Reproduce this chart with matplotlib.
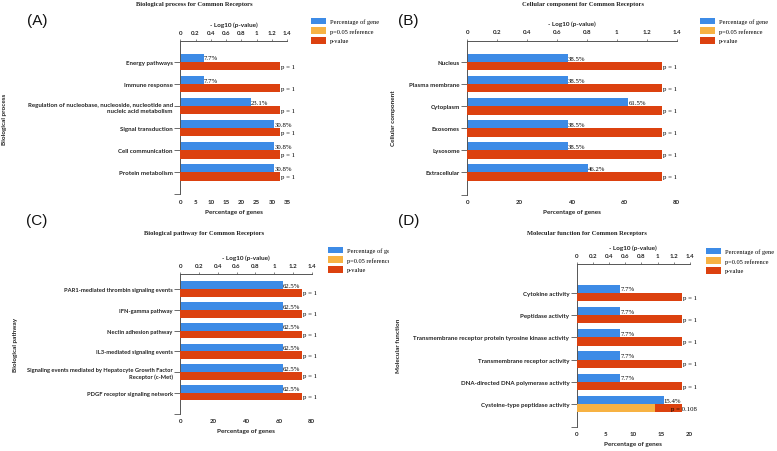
import numpy as np
import matplotlib
matplotlib.use("Agg")
import matplotlib.pyplot as plt
from matplotlib.patches import Patch
from matplotlib.transforms import Bbox

# ---------------- data ----------------
bp_categories = ["Energy pathways", "Immune response",
                 "Regulation of nucleobase, nucleoside, nucleotide and\nnucleic acid metabolism",
                 "Signal transduction", "Cell communication", "Protein metabolism"]
bp_percent = [7.7, 7.7, 23.1, 30.8, 30.8, 30.8]
bp_pvalue = [1, 1, 1, 1, 1, 1]

cc_categories = ["Nucleus", "Plasma membrane", "Cytoplasm", "Exosomes", "Lysosome", "Extracellular"]
cc_percent = [38.5, 38.5, 61.5, 38.5, 38.5, 46.2]
cc_pvalue = [1, 1, 1, 1, 1, 1]

pw_categories = ["PAR1-mediated thrombin signaling events", "IFN-gamma pathway",
                 "Nectin adhesion pathway", "IL3-mediated signaling events",
                 "Signaling events mediated by Hepatocyte Growth Factor\nReceptor (c-Met)",
                 "PDGF receptor signaling network"]
pw_percent = [62.5, 62.5, 62.5, 62.5, 62.5, 62.5]
pw_pvalue = [1, 1, 1, 1, 1, 1]

mf_categories = ["Cytokine activity", "Peptidase activity",
                 "Transmembrane receptor protein tyrosine kinase activity",
                 "Transmembrane receptor activity", "DNA-directed DNA polymerase activity",
                 "Cysteine-type peptidase activity"]
mf_percent = [7.7, 7.7, 7.7, 7.7, 7.7, 15.4]
mf_pvalue = [1, 1, 1, 1, 1, 0.108]

p_reference = 0.05
logp_ticks = [0, 0.2, 0.4, 0.6, 0.8, 1, 1.2, 1.4]
legend_labels = ["Percentage of gene", "p=0.05 reference", "p-value"]

# ---------------- style ----------------
BLUE = "#3d8be6"
ORANGE = "#f7b243"
RED = "#dc410f"
SANS = "Lato"
SERIF = "Liberation Serif"

W, H = 777, 452
fig = plt.figure(figsize=(W / 100, H / 100), dpi=100)


def rect(l, t, r, b):
    return [l / W, 1 - b / H, (r - l) / W, (b - t) / H]


def fx(x):
    return x / W


def fy(y):
    return 1 - y / H


def panel(cats, pct, pvals, box, top_lim, pct_max, pct_ticks, title, title_xy,
          ylabel, ylabel_x, letter, letter_xy, legend_xy, clip_right=None,
          cat_size=4.4):
    l, t, r, b = box
    ax = fig.add_axes(rect(l, t, r, b))
    ax2 = ax.twiny()
    n = len(cats)
    y = np.arange(n)
    h = 0.37
    ref = -np.log10(p_reference)
    lp = -np.log10(np.array(pvals, dtype=float))

    ax.barh(y - h / 2, pct, height=h, color=BLUE, zorder=2)
    ax2.barh(y + h / 2, [ref] * n, height=h, color=RED, zorder=2)
    ax2.barh(y + h / 2, lp, height=h, color=ORANGE, zorder=3)

    for yi, v in zip(y, pct):
        ax.text(v, yi - h / 2, f"{v}%", ha="left", va="center",
                fontsize=4.9, family=SERIF, zorder=5)
    for yi, p in zip(y, pvals):
        lab = "p = 1" if p == 1 else f"p = {p}"
        ax2.annotate(lab, (ref, yi + h / 2), xytext=(10.8, 0),
                     textcoords="offset points", ha="right", va="center",
                     fontsize=4.9, family=SERIF, zorder=6)

    ax.set_xlim(0, pct_max)
    ax.set_xticks(pct_ticks)
    ax.set_xticklabels([str(v) for v in pct_ticks])
    ax2.set_xlim(0, 1.4)
    ax2.set_xticks(logp_ticks)
    ax2.set_xticklabels([("%g" % v) for v in logp_ticks])
    ax.set_ylim(n, top_lim)
    ax.set_yticks(list(range(n + 1)))
    ax.set_yticklabels(list(cats) + [""])

    for s in ["right", "bottom", "top"]:
        ax.spines[s].set_visible(False)
    for s in ["right", "bottom", "left"]:
        ax2.spines[s].set_visible(False)
    ax.spines["left"].set_linewidth(0.7)
    ax.spines["left"].set_color("#555555")
    ax2.spines["top"].set_linewidth(0.7)
    ax2.spines["top"].set_color("#555555")

    ax.tick_params(axis="y", length=4, width=0.6, color="#555555", pad=1.5,
                   labelsize=cat_size)
    ax.tick_params(axis="x", length=0, pad=3.5, labelsize=4.4)
    ax2.tick_params(axis="x", length=1.5, width=0.5, color="#555555", pad=3,
                    labelsize=4.4)
    for lab in ax.get_yticklabels() + ax.get_xticklabels() + ax2.get_xticklabels():
        lab.set_family(SANS)
        lab.set_fontweight("bold")
        lab.set_color("#222222")
    for lab in ax.get_yticklabels():
        lab.set_multialignment("right")

    ax.set_xlabel("Percentage of genes", fontsize=4.6, family=SANS,
                  fontweight="bold", labelpad=3, color="#222222")
    ax2.set_xlabel("- Log10 (p-value)", fontsize=4.6, family=SANS,
                   fontweight="bold", labelpad=3, color="#222222")

    fig.text(fx(title_xy[0]), fy(title_xy[1]), title, ha="center", va="center",
             fontsize=4.7, family=SERIF, fontweight="bold", color="#222222")
    fig.text(fx(ylabel_x), fy((t + b) / 2), ylabel, rotation=90, ha="center",
             va="center", fontsize=4.6, family=SANS, fontweight="bold", color="#222222")
    fig.text(fx(letter_xy[0]), fy(letter_xy[1]), letter, ha="center", va="center",
             fontsize=11, family="Liberation Sans", color="#111111")

    handles = [Patch(facecolor=BLUE), Patch(facecolor=ORANGE), Patch(facecolor=RED)]
    leg = fig.legend(handles, legend_labels, loc="upper left",
                     bbox_to_anchor=(fx(legend_xy[0]), fy(legend_xy[1])),
                     frameon=False, prop={"family": SERIF, "size": 4.6},
                     handlelength=2.4, handleheight=1.3, handletextpad=0.6,
                     labelspacing=0.4, borderaxespad=0, borderpad=0)
    if clip_right is not None:
        cb = Bbox([[0, 0], [clip_right, H]])
        for txt in leg.get_texts():
            txt.set_clip_box(cb)
            txt.set_clip_on(True)
    return ax


panel(bp_categories, bp_percent, bp_pvalue, (180.3, 42.3, 287.3, 195.5), -0.94, 35,
      [0, 5, 10, 15, 20, 25, 30, 35], "Biological process for Common Receptors",
      (194, 4.5), "Biological process", 5, "(A)", (37, 21), (311, 18.5))

panel(cc_categories, cc_percent, cc_pvalue, (467.3, 41.7, 676.7, 195.5), -0.98, 80,
      [0, 20, 40, 60, 80], "Cellular component for Common Receptors",
      (583, 4.5), "Cellular component", 393, "(B)", (408, 21), (700, 18.5))

panel(pw_categories, pw_percent, pw_pvalue, (180.3, 275, 311.7, 414.5), -0.73, 80,
      [0, 20, 40, 60, 80], "Biological pathway for Common Receptors",
      (204, 233.5), "Biological pathway", 15, "(C)", (37, 221), (328, 247.5),
      clip_right=389, cat_size=4.15)

panel(mf_categories, mf_percent, mf_pvalue, (577, 265, 689.7, 427.5), -1.3, 20,
      [0, 5, 10, 15, 20], "Molecular function for Common Receptors",
      (587, 233.5), "Molecular function", 399, "(D)", (409, 221), (706, 248.5))

fig.savefig("out.png", dpi=100)
